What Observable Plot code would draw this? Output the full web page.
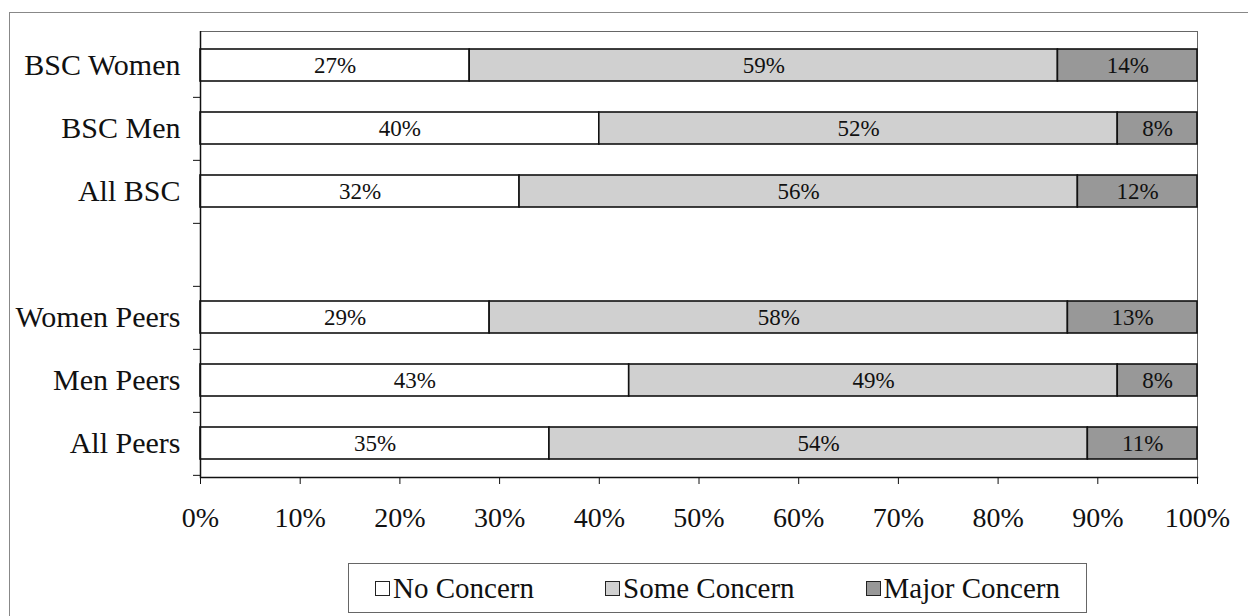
<!DOCTYPE html>
<html><head><meta charset="utf-8">
<script src="https://cdn.jsdelivr.net/npm/d3@7"></script>
<script src="https://cdn.jsdelivr.net/npm/@observablehq/plot@0.6"></script>
<style>
html,body{margin:0;padding:0;background:#fff;}
#wrap{position:relative;width:1248px;height:616px;overflow:hidden;font-family:"Liberation Serif","Times New Roman",serif;}
#frame{position:absolute;left:9px;top:12px;width:1400px;height:800px;border-left:1px solid #888;border-top:1px solid #888;}
#chart{position:absolute;left:0;top:0;}
#legend{position:absolute;left:348px;top:563px;width:737px;height:48px;border:1px solid #666;background:#fff;
  display:flex;align-items:center;justify-content:center;gap:71px;font-size:29px;color:#111;}
.item{display:flex;align-items:center;}
.sw{width:15px;height:15px;border:1px solid #222;margin-right:3px;box-sizing:border-box;}
</style>
</head><body>
<div id="wrap"><div id="frame"></div><div id="chart"></div><div id="legend"></div></div>
<script>
// ---- data ----
const rows = ["BSC Women","BSC Men","All BSC","Women Peers","Men Peers","All Peers"];
const yDomain = ["BSC Women","BSC Men","All BSC","","Women Peers","Men Peers","All Peers"];
const series = ["No Concern","Some Concern","Major Concern"];
const noConcern   = [27,40,32,29,43,35];
const someConcern = [59,52,56,58,49,54];
const majorConcern= [14, 8,12,13, 8,11];
const xTicks = [0,10,20,30,40,50,60,70,80,90,100];
const colors = ["#ffffff","#d0d0d0","#989898"];

const values = [noConcern, someConcern, majorConcern];
const data = [];
rows.forEach((r,i)=>series.forEach((s,j)=>data.push({row:r, series:s, value:values[j][i]})));

const W = 1248, H = 545, mT = 31, mB = 68, mL = 200, mR = 51;
const step = (H - mT - mB) / yDomain.length;

const chart = Plot.plot({
  width: W, height: H,
  marginTop: mT, marginBottom: mB, marginLeft: mL, marginRight: mR,
  style: {fontFamily: '"Liberation Serif","Times New Roman",serif', color:"#111", background:"transparent"},
  x: {domain:[0,100]},
  y: {domain: yDomain, paddingInner: 0.5, paddingOuter: 0.25},
  color: {domain: series, range: colors},
  marks: [
    Plot.frame({stroke:"#666", strokeWidth:1}),
    Plot.barX(data, Plot.stackX({x:"value", y:"row", fill:"series", order: series, stroke:"#111", strokeWidth:1.6})),
    Plot.text(data, Plot.stackX({x:"value", y:"row", z:"series", order: series, text: d => d.value + "%", fontSize: 23, fill:"#111"})),
    Plot.ruleX([0], {stroke:"#111", strokeWidth:1.5}),
    Plot.frame({anchor:"bottom", stroke:"#111", strokeWidth:1.5}),
    Plot.axisY({tickSize: 0, tickPadding: 20, fontSize: 30, label: null}),
    Plot.axisY({tickSize: 7, tickFormat: () => "", label: null, dy: step/2, stroke:"#111"}),
    Plot.axisX({ticks: xTicks, tickFormat: d => d + "%", tickSize: 7, tickPadding: 23, fontSize: 28, label: null})
  ]
});
document.getElementById("chart").appendChild(chart);

// legend
const leg = document.getElementById("legend");
series.forEach((s,j)=>{
  const it = document.createElement("div"); it.className = "item";
  const sw = document.createElement("div"); sw.className = "sw"; sw.style.background = colors[j];
  const t = document.createElement("span"); t.textContent = s;
  it.appendChild(sw); it.appendChild(t); leg.appendChild(it);
});
</script>
</body></html>
